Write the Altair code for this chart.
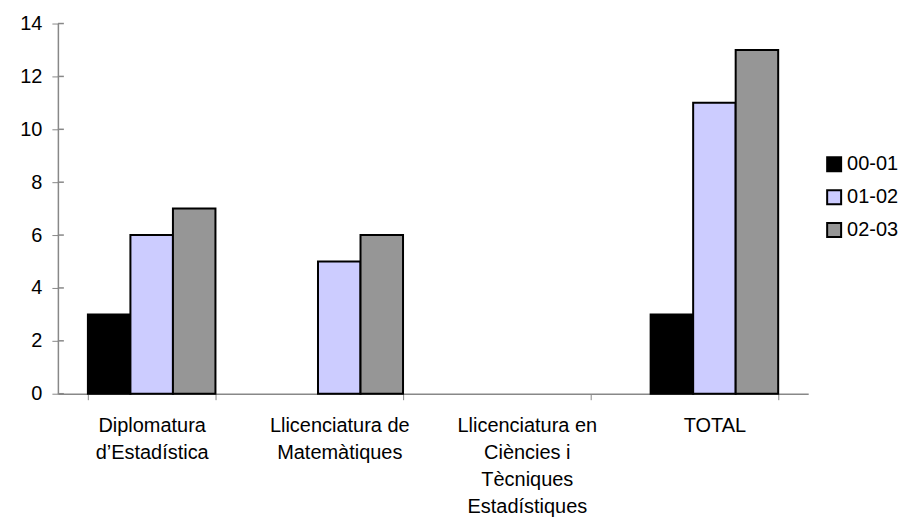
import altair as alt
import pandas as pd

categories = [
    "Diplomatura\nd’Estadística",
    "Llicenciatura de\nMatemàtiques",
    "Llicenciatura en\nCiències i\nTècniques\nEstadístiques",
    "TOTAL",
]
series = ["00-01", "01-02", "02-03"]
values_00_01 = [3, 0, 0, 3]
values_01_02 = [6, 5, 0, 11]
values_02_03 = [7, 6, 0, 13]
colors = ["#000000", "#CCCCFF", "#969696"]
y_ticks = [0, 2, 4, 6, 8, 10, 12, 14]

rows = []
for s, vals in zip(series, [values_00_01, values_01_02, values_02_03]):
    for c, v in zip(categories, vals):
        rows.append({"cat": c, "serie": s, "value": v})
df = pd.DataFrame(rows)
ticks_df = pd.DataFrame({"t": y_ticks})

FONT = "Liberation Sans"

bars = (
    alt.Chart(df)
    .transform_filter("datum.value > 0")
    .mark_bar(stroke="#000000", strokeWidth=2)
    .encode(
        x=alt.X(
            "cat:N",
            sort=categories,
            scale=alt.Scale(domain=categories, paddingInner=0.32, paddingOuter=0.16),
            axis=alt.Axis(
                title=None,
                labelAngle=0,
                labelExpr="split(datum.label, '\\n')",
                labelLineHeight=27,
                labelPadding=16,
                labelLimit=400,
                tickBand="extent",
                tickSize=6,
                domainColor="#888888",
                tickColor="#888888",
                domainWidth=1.5,
            ),
        ),
        xOffset=alt.XOffset("serie:N", sort=series, scale=alt.Scale(paddingInner=0, paddingOuter=0)),
        y=alt.Y(
            "value:Q",
            scale=alt.Scale(domain=[0, 14], nice=False),
            axis=alt.Axis(
                title=None,
                values=y_ticks,
                grid=False,
                tickSize=6,
                labelPadding=10,
                domainColor="#888888",
                tickColor="#888888",
                domainWidth=1.5,
            ),
        ),
        fill=alt.Fill(
            "serie:N",
            sort=series,
            scale=alt.Scale(domain=series, range=colors),
            legend=alt.Legend(
                title=None,
                orient="none",
                legendX=768,
                legendY=131,
                symbolType="square",
                symbolSize=196,
                symbolStrokeColor="#000000",
                symbolStrokeWidth=2,
                rowPadding=11,
                labelOffset=3,
            ),
        ),
    )
)

inner_ticks = (
    alt.Chart(ticks_df)
    .mark_rule(color="#888888", strokeWidth=1.5)
    .encode(y=alt.Y("t:Q"), x=alt.value(0), x2=alt.value(6))
)

chart = (
    alt.layer(bars, inner_ticks)
    .properties(
        width=752,
        height=371,
        autosize=alt.AutoSizeParams(type="none"),
        padding={"left": 50, "top": 15, "right": 90, "bottom": 124},
    )
    .configure_view(stroke=None)
    .configure_axis(labelFont=FONT, labelFontSize=20, labelColor="#000000")
    .configure_legend(labelFont=FONT, labelFontSize=20, labelColor="#000000")
)

chart.save("out.html", embed_options={"renderer": "svg", "actions": False})
